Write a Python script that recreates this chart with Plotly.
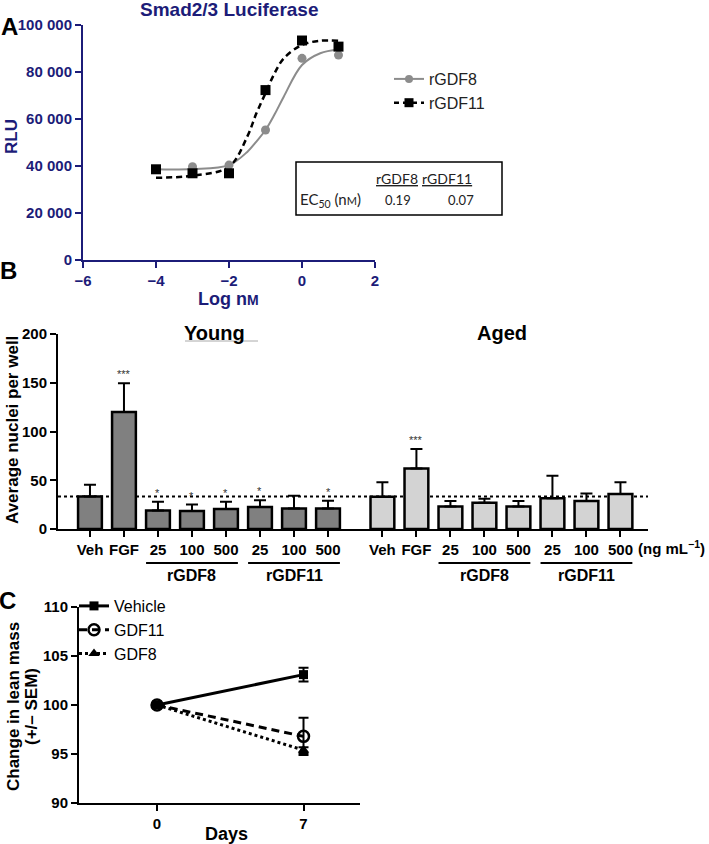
import plotly.graph_objects as go

# ---------------- Data ----------------
# Panel A: Smad2/3 luciferase dose response
log_conc = [-4, -3, -2, -1, 0, 1]
gdf8_rlu = [38500, 39700, 40400, 55300, 85800, 87200]
gdf8_err = [800, 4000, 1000, 1000, 2000, 2600]
gdf11_rlu = [38600, 36900, 36900, 72300, 93400, 90800]
gdf11_err = [800, 2600, 1500, 1000, 1200, 1500]
curve_x = [-4, -3, -2, -1.5, -1.25, -1, -0.75, -0.5, 0, 0.5, 1]
gdf8_curve = [38600, 38700, 40400, 46000, 50400, 55300, 62000, 69500, 83000, 88000, 89600]
gdf11_curve = [35000, 35900, 39700, 52500, 62400, 71000, 79500, 85800, 91500, 93300, 93300]
ec50_names = ["rGDF8", "rGDF11"]
ec50_values = ["0.19", "0.07"]

# Panel B: average nuclei per well
bar_labels = ["Veh", "FGF", "25", "100", "500", "25", "100", "500"]
young_mean = [33.4, 120, 19, 18.5, 20.5, 22.5, 21, 21]
young_err = [12, 29.5, 9, 6.5, 7.5, 7, 13, 8]
young_sig = ["", "***", "*", "*", "*", "*", "", "*"]
aged_mean = [33, 62, 23, 27, 23, 31.5, 28.7, 36]
aged_err = [15, 20, 5.7, 4, 5.7, 23, 7.8, 12]
aged_sig = ["", "***", "", "", "", "", "", ""]

# Panel C: change in lean mass
days = [0, 7]
vehicle = [100, 103.1]
vehicle_err = [0, 0.7]
gdf11 = [100, 96.8]
gdf11_err = [0, 1.9]
gdf8 = [100, 95.4]
gdf8_err = [0, 0.3]

# ---------------- Styling ----------------
W, H = 709, 844
NAVY = "#1c1c78"
GRAY = "#8c8c8c"
DARK_BAR = "#808080"
LIGHT_BAR = "#d3d3d3"
FONT = "Liberation Sans, Arial, sans-serif"
CAL = "Lato, Liberation Sans, sans-serif"


def px_x(x):
    return x / W


def px_y(y):
    return 1 - y / H


fig = go.Figure()

# ---- Panel A ----
fig.add_trace(go.Scatter(x=curve_x, y=gdf8_curve, mode="lines", xaxis="x", yaxis="y",
                         line=dict(color=GRAY, width=2, shape="spline"), showlegend=False, hoverinfo="skip"))
fig.add_trace(go.Scatter(x=curve_x, y=gdf11_curve, mode="lines", xaxis="x", yaxis="y",
                         line=dict(color="black", width=2.5, dash="6px,4px", shape="spline"),
                         showlegend=False, hoverinfo="skip"))
fig.add_trace(go.Scatter(x=log_conc, y=gdf8_rlu, mode="markers", xaxis="x", yaxis="y",
                         marker=dict(symbol="circle", size=9, color=GRAY),
                         error_y=dict(type="data", array=gdf8_err, color=GRAY, thickness=2, width=4),
                         showlegend=False))
fig.add_trace(go.Scatter(x=log_conc, y=gdf11_rlu, mode="markers", xaxis="x", yaxis="y",
                         marker=dict(symbol="square", size=10, color="black"),
                         error_y=dict(type="data", array=gdf11_err, color="black", thickness=2, width=4),
                         showlegend=False))
fig.add_trace(go.Scatter(x=[None], y=[None], mode="lines+markers", name="rGDF8", xaxis="x", yaxis="y",
                         line=dict(color=GRAY, width=2), marker=dict(symbol="circle", size=8, color=GRAY),
                         legend="legend"))
fig.add_trace(go.Scatter(x=[None], y=[None], mode="lines+markers", name="rGDF11", xaxis="x", yaxis="y",
                         line=dict(color="black", width=2.5, dash="5px,4px"),
                         marker=dict(symbol="square", size=9, color="black"), legend="legend"))

# ---- Panel B ----
young_x = [i for i in range(len(bar_labels))]
aged_x = [i + 8.6 for i in range(len(bar_labels))]
fig.add_trace(go.Bar(x=young_x, y=young_mean, width=0.7, xaxis="x2", yaxis="y2",
                     marker=dict(color=DARK_BAR, line=dict(color="black", width=2.5)),
                     error_y=dict(type="data", symmetric=False, array=young_err,
                                  arrayminus=[0] * len(young_err), color="black", thickness=2, width=6),
                     showlegend=False))
fig.add_trace(go.Bar(x=aged_x, y=aged_mean, width=0.7, xaxis="x2", yaxis="y2",
                     marker=dict(color=LIGHT_BAR, line=dict(color="black", width=2.5)),
                     error_y=dict(type="data", symmetric=False, array=aged_err,
                                  arrayminus=[0] * len(aged_err), color="black", thickness=2, width=6),
                     showlegend=False))

# ---- Panel C ----
fig.add_trace(go.Scatter(x=days, y=gdf8, mode="lines+markers", name="GDF8", xaxis="x3", yaxis="y3",
                         line=dict(color="black", width=3, dash="dot"),
                         marker=dict(symbol="triangle-up", size=10, color="black"),
                         error_y=dict(type="data", array=gdf8_err, color="black", thickness=2, width=5),
                         legend="legend2"))
fig.add_trace(go.Scatter(x=days, y=gdf11, mode="lines+markers", name="GDF11", xaxis="x3", yaxis="y3",
                         line=dict(color="black", width=3, dash="8px,5px"),
                         marker=dict(symbol="circle-open", size=11, color="black", line=dict(width=2.5)),
                         error_y=dict(type="data", array=gdf11_err, color="black", thickness=2, width=5),
                         legend="legend2"))
fig.add_trace(go.Scatter(x=days, y=vehicle, mode="lines+markers", name="Vehicle", xaxis="x3", yaxis="y3",
                         line=dict(color="black", width=3),
                         marker=dict(symbol="square", size=9, color="black"),
                         error_y=dict(type="data", array=vehicle_err, color="black", thickness=2, width=5),
                         legend="legend2"))


def axis_style(color, size=15):
    return dict(showline=True, linecolor=color, linewidth=2, ticks="outside", ticklen=6, tickwidth=2,
                tickcolor=color, showgrid=False, zeroline=False, automargin=False,
                tickfont=dict(family=FONT, size=size, color=color, weight="bold"))


minus = "\u2212"
layout = dict(
    width=W, height=H, margin=dict(l=0, r=0, t=0, b=0),
    paper_bgcolor="white", plot_bgcolor="rgba(0,0,0,0)",
    barmode="overlay",
    xaxis=dict(domain=[px_x(83), px_x(375)], anchor="y", range=[-6, 2],
               tickvals=[-6, -4, -2, 0, 2], ticktext=[minus + "6", minus + "4", minus + "2", "0", "2"],
               **axis_style(NAVY)),
    yaxis=dict(domain=[px_y(260), px_y(25)], anchor="x", range=[0, 100000],
               tickvals=[0, 20000, 40000, 60000, 80000, 100000],
               ticktext=["0", "20 000", "40 000", "60 000", "80 000", "100 000"],
               **axis_style(NAVY)),
    xaxis2=dict(domain=[px_x(58), px_x(648)], anchor="y2", range=[-0.94, 16.41],
                tickvals=young_x + aged_x, ticktext=bar_labels + bar_labels,
                **axis_style("black")),
    yaxis2=dict(domain=[px_y(529), px_y(334)], anchor="x2", range=[0, 200],
                tickvals=[0, 50, 100, 150, 200], **axis_style("black")),
    xaxis3=dict(domain=[px_x(79), px_x(360)], anchor="y3", range=[-3.73, 9.7],
                tickvals=[0, 7], **axis_style("black")),
    yaxis3=dict(domain=[px_y(803), px_y(607)], anchor="x3", range=[90, 110],
                tickvals=[90, 95, 100, 105, 110], **axis_style("black")),
    legend=dict(x=px_x(389), y=px_y(62), xanchor="left", yanchor="top", bgcolor="rgba(0,0,0,0)",
                font=dict(family=FONT, size=16, color="#222"), tracegroupgap=0),
    legend2=dict(x=px_x(74), y=px_y(589), xanchor="left", yanchor="top", bgcolor="rgba(0,0,0,0)",
                 font=dict(family=FONT, size=16, color="black"), traceorder="reversed", tracegroupgap=0),
)
fig.update_layout(**layout)

ann = []
shapes = []


def text(x, y, t, size=14, color="black", bold=True, family=FONT, angle=0, xanchor="center", yanchor="middle"):
    ann.append(dict(x=px_x(x), y=px_y(y), xref="paper", yref="paper", text=t, showarrow=False,
                    xanchor=xanchor, yanchor=yanchor, textangle=angle,
                    font=dict(family=family, size=size, color=color, weight="bold" if bold else "normal")))


# Panel letters
text(9, 26, "A", size=24)
text(8, 271, "B", size=24)
text(7, 600, "C", size=24)

# Panel A titles
text(229, 10, "Smad2/3 Luciferase", size=19, color=NAVY)
text(11, 137, "RLU", size=17, color=NAVY, angle=-90)
text(228, 299, "Log n<span style='font-size:14px'>M</span>", size=18, color=NAVY)

# EC50 box
shapes.append(dict(type="rect", xref="paper", yref="paper", x0=px_x(296), x1=px_x(502),
                   y0=px_y(215), y1=px_y(162), line=dict(color="black", width=1.5)))
text(397, 178, "<u>" + ec50_names[0] + "</u>", size=14, bold=False, family=CAL, color="#222")
text(447, 178, "<u>" + ec50_names[1] + "</u>", size=14, bold=False, family=CAL, color="#222")
text(298, 200, "EC<sub>50</sub> (n<span style='font-size:11px'>M</span>)", size=15, bold=False,
     family=CAL, color="#222", xanchor="left")
text(398, 200, ec50_values[0], size=13, bold=False, family=CAL, color="#222")
text(461, 200, ec50_values[1], size=13, bold=False, family=CAL, color="#222")

# Panel B titles
text(12, 430, "Average nuclei per well", size=17, angle=-90)
text(215, 333, "Young", size=20)
text(502, 333, "Aged", size=20)
shapes.append(dict(type="line", xref="paper", yref="paper", x0=px_x(185), x1=px_x(258),
                   y0=px_y(341), y1=px_y(341), line=dict(color="#aaaaaa", width=1)))
text(707, 547, "(ng mL<sup>" + minus + "1</sup>)", size=15, xanchor="right")

# Significance stars
for xs, means, errs, sigs in [(young_x, young_mean, young_err, young_sig),
                              (aged_x, aged_mean, aged_err, aged_sig)]:
    for xv, m, e, s in zip(xs, means, errs, sigs):
        if s:
            ann.append(dict(x=xv, y=m + e, xref="x2", yref="y2", text=s, showarrow=False,
                            yanchor="bottom", yshift=1,
                            font=dict(family=FONT, size=11, color="#333333")))

# Group lines and labels under panel B axis
for xs in [young_x, aged_x]:
    for lo, hi, name in [(2, 4, "rGDF8"), (5, 7, "rGDF11")]:
        shapes.append(dict(type="line", xref="x2", yref="paper", x0=xs[lo] - 0.35, x1=xs[hi] + 0.35,
                           y0=px_y(563), y1=px_y(563), line=dict(color="black", width=2)))
        ann.append(dict(x=xs[(lo + hi) // 2], y=px_y(575), xref="x2", yref="paper", text=name,
                        showarrow=False, yanchor="middle",
                        font=dict(family=FONT, size=16, color="black", weight="bold")))

# Dotted reference line at young vehicle level
shapes.append(dict(type="line", xref="x2 domain", yref="y2", x0=0, x1=1,
                   y0=young_mean[0], y1=young_mean[0], layer="below",
                   line=dict(color="black", width=2, dash="dot")))

# Panel C titles (two lines, set tight)
text(13, 707, "Change in lean mass", size=17, angle=-90)
text(31, 707, "(+/" + "\u2013" + " SEM)", size=17, angle=-90)
text(226, 834, "Days", size=18)

fig.update_layout(annotations=ann, shapes=shapes)
fig.write_html("out.html", config={"displayModeBar": False},
               post_script="document.body.style.margin='0px';document.body.style.overflow='hidden';")
